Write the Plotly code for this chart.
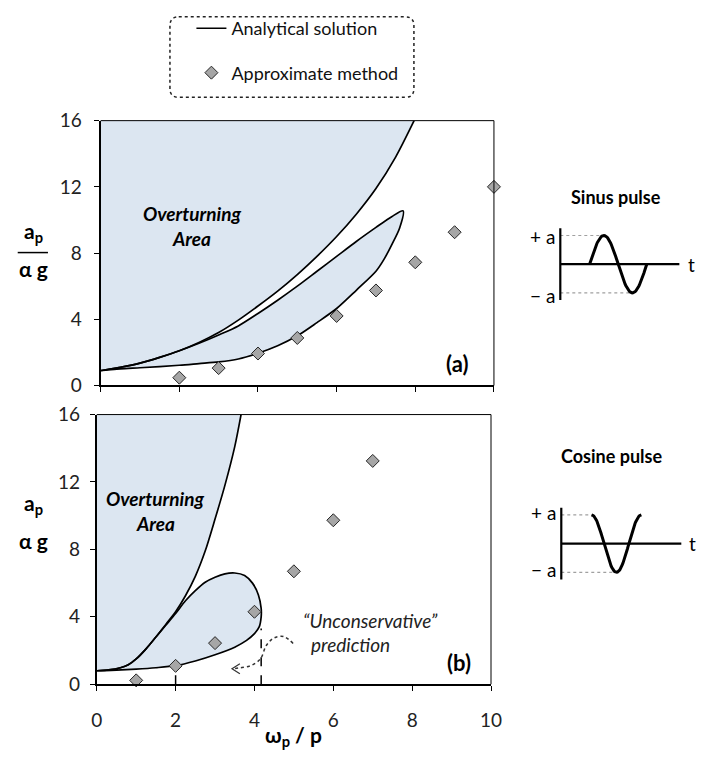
import numpy as np
import plotly.graph_objects as go

W, H = 705, 768
FONT = "Lato"
FILL = "#dce6f1"

# ---------- panel (a): sinus pulse ----------
sin_outer_x = [0, 0.5, 1.0, 1.5, 2.0, 2.5, 3.0, 3.5, 4.0, 4.5, 5.0, 5.5, 6.0, 6.5, 7.0, 7.5, 7.97]
sin_outer_y = [0.9, 1.1, 1.35, 1.7, 2.1, 2.6, 3.2, 3.95, 4.8, 5.7, 6.7, 7.8, 9.0, 10.35, 11.9, 13.8, 16.0]

sin_lobe_x = [0, 0.5, 1.0, 1.5, 2.0, 2.5, 3.0, 3.5, 4.0, 4.5, 5.0, 5.5, 6.0, 6.5, 7.0, 7.4, 7.69,
              7.6, 7.4, 7.2, 7.0, 6.5, 6.0, 5.5, 5.0, 4.5, 4.0, 3.5, 3.0, 2.5, 2.0, 1.0, 0.5, 0]
sin_lobe_y = [0.9, 1.1, 1.35, 1.7, 2.1, 2.55, 3.05, 3.6, 4.35, 5.15, 6.0, 6.9, 7.8, 8.7, 9.55, 10.2, 10.55,
              9.5, 8.5, 7.6, 6.9, 5.75, 4.65, 3.8, 3.0, 2.4, 1.95, 1.6, 1.42, 1.32, 1.22, 1.07, 1.0, 0.9]

sin_approx_x = [2, 3, 4, 5, 6, 7, 8, 9, 10]
sin_approx_y = [0.47, 1.05, 1.93, 2.87, 4.2, 5.74, 7.44, 9.26, 12.0]

# ---------- panel (b): cosine pulse ----------
cos_outer_x = [0, 0.3, 0.6, 0.8, 1.0, 1.25, 1.5, 1.75, 2.0, 2.25, 2.5, 2.75, 3.0, 3.25, 3.5, 3.66]
cos_outer_y = [0.8, 0.85, 0.98, 1.15, 1.5, 2.1, 2.8, 3.55, 4.3, 5.25, 6.4, 7.9, 9.8, 11.8, 14.1, 16.0]

cos_lobe_x = [0, 0.3, 0.6, 0.8, 1.0, 1.25, 1.5, 1.75, 2.0, 2.25, 2.5, 2.75, 3.0, 3.25, 3.5, 3.75, 3.95,
              4.1, 4.17, 4.17, 4.12, 4.0, 3.8, 3.5, 3.0, 2.5, 2.0, 1.5, 1.0, 0.5, 0]
cos_lobe_y = [0.8, 0.85, 0.98, 1.15, 1.5, 2.1, 2.8, 3.5, 4.2, 4.95, 5.55, 6.05, 6.35, 6.55, 6.6, 6.45, 6.0,
              5.3, 4.5, 4.0, 3.4, 3.0, 2.6, 2.2, 1.75, 1.38, 1.1, 0.98, 0.9, 0.84, 0.8]

cos_approx_x = [1, 2, 3, 4, 5, 6, 7]
cos_approx_y = [0.23, 1.09, 2.44, 4.3, 6.7, 9.73, 13.25]

# range where the approximate method is unconservative
unsafe_x = [2.0, 4.17]
unsafe_y = [1.09, 3.3]

# dotted pointer towards the unconservative zone
pointer_x = [4.98, 4.75, 4.5, 4.3, 4.15, 3.9, 3.62, 3.43]
pointer_y = [2.42, 2.82, 2.75, 2.3, 1.5, 1.1, 0.97, 0.92]

x_ticks = [0, 2, 4, 6, 8, 10]
y_ticks = [0, 4, 8, 12, 16]


def px(x):
    return x / W


def py(y):
    return 1 - y / H


fig = go.Figure()

# ----- panel (a) -----
fig.add_trace(go.Scatter(
    x=sin_outer_x + [8.3, -0.5, -0.5], y=sin_outer_y + [17.5, 17.5, sin_outer_y[0]],
    fill="toself", fillcolor=FILL, mode="lines", line=dict(width=0), showlegend=False,
    hoverinfo="skip", xaxis="x", yaxis="y"))
fig.add_trace(go.Scatter(
    x=sin_lobe_x, y=sin_lobe_y, fill="toself", fillcolor=FILL, mode="lines",
    line=dict(color="black", width=1.7, shape="spline", smoothing=0.8),
    showlegend=False, xaxis="x", yaxis="y"))
fig.add_trace(go.Scatter(
    x=sin_outer_x, y=sin_outer_y, mode="lines", name="Analytical solution",
    line=dict(color="black", width=1.7, shape="spline", smoothing=0.8),
    legendgroup="a", xaxis="x", yaxis="y"))
fig.add_trace(go.Scatter(
    x=sin_approx_x, y=sin_approx_y, mode="markers", name="Approximate method",
    marker=dict(symbol="diamond", size=10, color="#a6a6a6", line=dict(color="#262626", width=1)),
    legendgroup="b", cliponaxis=False, xaxis="x", yaxis="y"))

# ----- panel (b) -----
fig.add_trace(go.Scatter(
    x=cos_outer_x + [3.9, -0.5, -0.5], y=cos_outer_y + [17.5, 17.5, cos_outer_y[0]],
    fill="toself", fillcolor=FILL, mode="lines", line=dict(width=0), showlegend=False,
    hoverinfo="skip", xaxis="x2", yaxis="y2"))
fig.add_trace(go.Scatter(
    x=cos_lobe_x, y=cos_lobe_y, fill="toself", fillcolor=FILL, mode="lines",
    line=dict(color="black", width=1.7, shape="spline", smoothing=0.8),
    showlegend=False, xaxis="x2", yaxis="y2"))
fig.add_trace(go.Scatter(
    x=cos_outer_x, y=cos_outer_y, mode="lines", showlegend=False,
    line=dict(color="black", width=1.7, shape="spline", smoothing=0.8),
    xaxis="x2", yaxis="y2"))
for xv, yv in zip(unsafe_x, unsafe_y):
    fig.add_trace(go.Scatter(
        x=[xv, xv], y=[0, yv], mode="lines", showlegend=False,
        line=dict(color="black", width=1.5, dash="dash"), xaxis="x2", yaxis="y2"))
fig.add_trace(go.Scatter(
    x=cos_approx_x, y=cos_approx_y, mode="markers", showlegend=False,
    marker=dict(symbol="diamond", size=10, color="#a6a6a6", line=dict(color="#262626", width=1)),
    cliponaxis=False, xaxis="x2", yaxis="y2"))
fig.add_trace(go.Scatter(
    x=pointer_x, y=pointer_y, mode="lines", showlegend=False,
    line=dict(color="#333333", width=1.5, dash="dot", shape="spline"), xaxis="x2", yaxis="y2"))
tip_x, tip_y = pointer_x[-1], pointer_y[-1]
fig.add_trace(go.Scatter(
    x=[tip_x + 0.2, tip_x, tip_x + 0.2], y=[tip_y + 0.3, tip_y, tip_y - 0.3],
    mode="lines", showlegend=False, line=dict(color="#333333", width=1.2),
    xaxis="x2", yaxis="y2"))


# ----- pulse sketches -----
def pulse(fn, t0, period, xa, ya):
    t = np.linspace(t0, t0 + period, 80)
    y = fn(2 * np.pi * (t - t0) / period)
    peak_t = t[np.argmax(y)]
    trough_t = t[np.argmin(y)]
    fig.add_trace(go.Scatter(x=[0, peak_t], y=[1, 1], mode="lines", showlegend=False,
                             line=dict(color="#a0a0a0", width=1.2, dash="dot"), xaxis=xa, yaxis=ya))
    fig.add_trace(go.Scatter(x=[0, trough_t], y=[-1, -1], mode="lines", showlegend=False,
                             line=dict(color="#a0a0a0", width=1.2, dash="dot"), xaxis=xa, yaxis=ya))
    fig.add_trace(go.Scatter(x=[0, 0], y=[-1.25, 1.25], mode="lines", showlegend=False,
                             line=dict(color="black", width=2.2), xaxis=xa, yaxis=ya))
    fig.add_trace(go.Scatter(x=[0, 1], y=[0, 0], mode="lines", showlegend=False,
                             line=dict(color="black", width=2.2), xaxis=xa, yaxis=ya))
    fig.add_trace(go.Scatter(x=t, y=y, mode="lines", showlegend=False,
                             line=dict(color="black", width=3), xaxis=xa, yaxis=ya))


pulse(np.sin, 0.246, 0.48, "x3", "y3")
pulse(np.cos, 0.252, 0.415, "x4", "y4")

tick_font = dict(family=FONT, size=19, color="#222222")
common_x = dict(range=[0, 10], tickvals=x_ticks, showgrid=False, zeroline=False,
                showline=True, linecolor="black", linewidth=2, ticks="outside",
                ticklen=5, tickwidth=1.2, tickcolor="black", tickfont=tick_font)
common_y = dict(range=[0, 16], tickvals=y_ticks, showgrid=False, zeroline=False,
                showline=True, linecolor="black", linewidth=2, ticks="outside",
                ticklen=5, tickwidth=1.2, tickcolor="black", tickfont=tick_font)
bare = dict(showgrid=False, zeroline=False, showline=False, showticklabels=False,
            ticks="", fixedrange=True)

# sketch boxes: unit pulse axes sized 122 px (time) x 29.6 px (amplitude)
SX3, SY3 = 122.0, 29.6   # px per unit
ox3, oy3 = 568, 260      # pixel position of the sketch origin
ox4, oy4 = 569, 548
box_x = (530, 705)
box3_y = (185, 310)
box4_y = (445, 600)

fig.update_layout(
    width=W, height=H, margin=dict(l=0, r=0, t=0, b=0),
    paper_bgcolor="white", plot_bgcolor="rgba(0,0,0,0)",
    font=dict(family=FONT, color="black"),
    xaxis=dict(common_x, domain=[px(97), px(500)], anchor="y", showticklabels=False),
    yaxis=dict(common_y, domain=[py(385), py(112)], anchor="x", ticklabelstandoff=8),
    xaxis2=dict(common_x, domain=[px(93), px(497)], anchor="y2", ticklabelstandoff=13),
    yaxis2=dict(common_y, domain=[py(693), py(415)], anchor="x2", ticklabelstandoff=6),
    xaxis3=dict(bare, domain=[px(box_x[0]), px(box_x[1])], anchor="y3",
                range=[(box_x[0] - ox3) / SX3, (box_x[1] - ox3) / SX3]),
    yaxis3=dict(bare, domain=[py(box3_y[1]), py(box3_y[0])], anchor="x3",
                range=[(oy3 - box3_y[1]) / SY3, (oy3 - box3_y[0]) / SY3]),
    xaxis4=dict(bare, domain=[px(box_x[0]), px(box_x[1])], anchor="y4",
                range=[(box_x[0] - ox4) / 123.0, (box_x[1] - ox4) / 123.0]),
    yaxis4=dict(bare, domain=[py(box4_y[1]), py(box4_y[0])], anchor="x4",
                range=[(oy4 - box4_y[1]) / SY3, (oy4 - box4_y[0]) / SY3]),
    legend=dict(x=px(190), y=py(-2), xanchor="left", yanchor="top",
                bgcolor="rgba(0,0,0,0)", font=dict(family=FONT, size=18, color="#111111"),
                tracegroupgap=18, itemwidth=30),
)

shapes = []
# thin top / right frame of both panels
for xa, ya in (("x", "y"), ("x2", "y2")):
    shapes.append(dict(type="line", xref=f"{xa} domain", yref=f"{ya} domain",
                       x0=0, x1=1, y0=1, y1=1, line=dict(color="black", width=1)))
    shapes.append(dict(type="line", xref=f"{xa} domain", yref=f"{ya} domain",
                       x0=1, x1=1, y0=0, y1=1, line=dict(color="black", width=1)))

# dotted rounded frame around the legend
L, R, T, B, r = 168, 418, 5, 88, 9
path = (f"M {px(L + r)},{py(T)} L {px(R - r)},{py(T)} Q {px(R)},{py(T)} {px(R)},{py(T + r)} "
        f"L {px(R)},{py(B - r)} Q {px(R)},{py(B)} {px(R - r)},{py(B)} "
        f"L {px(L + r)},{py(B)} Q {px(L)},{py(B)} {px(L)},{py(B - r)} "
        f"L {px(L)},{py(T + r)} Q {px(L)},{py(T)} {px(L + r)},{py(T)} Z")
shapes.append(dict(type="path", xref="paper", yref="paper", path=path,
                   line=dict(color="#222222", width=1.5, dash="dot")))
# fraction bar of the top y label
shapes.append(dict(type="line", xref="paper", yref="paper", x0=px(12), x1=px(43),
                   y0=py(248), y1=py(248), line=dict(color="black", width=1.5)))
fig.update_layout(shapes=shapes)

ann = []


def note(text, x, y, xref, yref, size=15, xanchor="center", color="black"):
    ann.append(dict(text=text, x=x, y=y, xref=xref, yref=yref, showarrow=False,
                    xanchor=xanchor, yanchor="middle",
                    font=dict(family=FONT, size=size, color=color)))


# axis titles
note("<b>a<sub>p</sub></b>", px(28), py(227), "paper", "paper", size=21)
note("<b>α g</b>", px(28), py(264), "paper", "paper", size=21)
note("<b>a<sub>p</sub></b>", px(28), py(507), "paper", "paper", size=21)
note("<b>α g</b>", px(28), py(545), "paper", "paper", size=21)
note("<b>ω<sub>p</sub> / p</b>", px(295), py(746), "paper", "paper", size=21)

# panel texts
note("<b><i>Overturning</i></b>", 2.31, 10.4, "x", "y", size=19)
note("<b><i>Area</i></b>", 2.31, 8.9, "x", "y", size=19)
note("<b>(a)</b>", 9.06, 1.35, "x", "y", size=22)
note("<b><i>Overturning</i></b>", 1.49, 11.0, "x2", "y2", size=19)
note("<b><i>Area</i></b>", 1.49, 9.55, "x2", "y2", size=19)
note("<b>(b)</b>", 9.18, 1.32, "x2", "y2", size=22)
note("<i>“Unconservative”</i>", 5.18, 3.8, "x2", "y2", size=19, xanchor="left", color="#222222")
note("<i>prediction</i>", 5.38, 2.36, "x2", "y2", size=19, xanchor="left", color="#222222")

# pulse sketch labels
note("<b>Sinus pulse</b>", 0.467, 2.35, "x3", "y3", size=18)
note("+ a", -0.03, 0.95, "x3", "y3", size=19, xanchor="right")
note("− a", -0.03, -1.1, "x3", "y3", size=19, xanchor="right")
note("t", 1.1, 0.0, "x3", "y3", size=19)
note("<b>Cosine pulse</b>", 0.415, 3.04, "x4", "y4", size=18)
note("+ a", -0.03, 1.1, "x4", "y4", size=19, xanchor="right")
note("− a", -0.03, -0.9, "x4", "y4", size=19, xanchor="right")
note("t", 1.09, 0.0, "x4", "y4", size=19)

fig.update_layout(annotations=ann)
fig.write_html("out.html")
